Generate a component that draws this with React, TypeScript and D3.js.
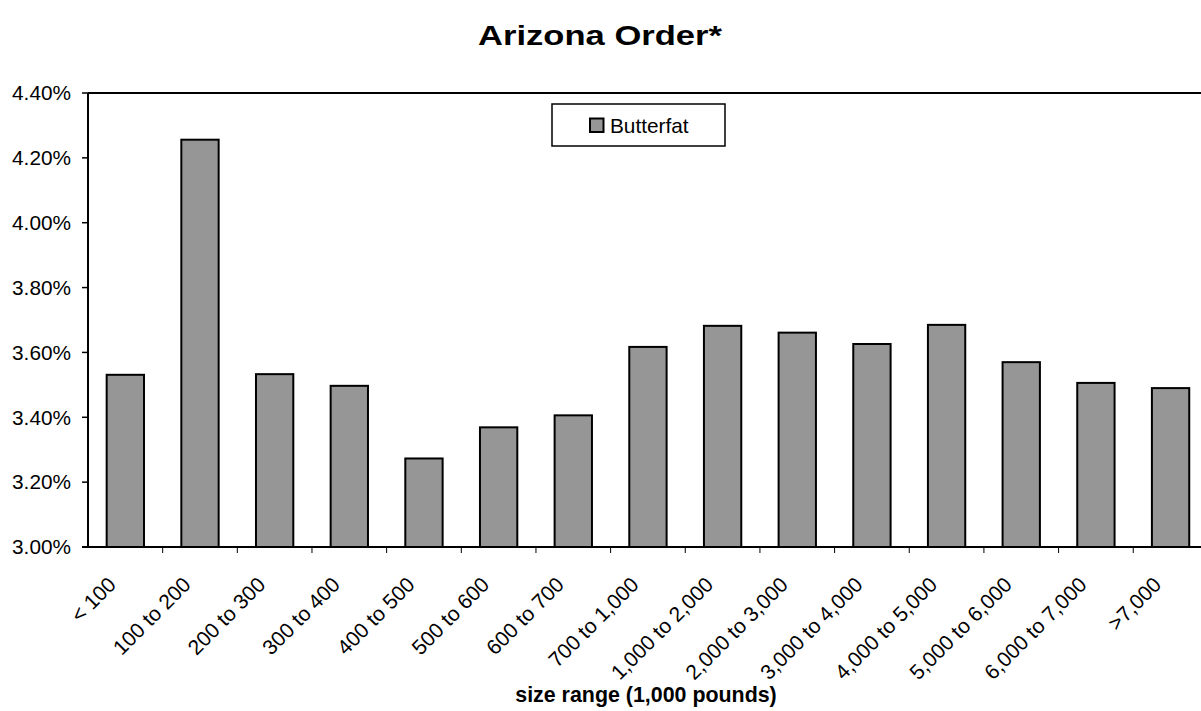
import React from "react";
import * as d3 from "d3";

// Butterfat test by producer size range (1,000 pounds)
const categories: string[] = [
  "< 100",
  "100 to 200",
  "200 to 300",
  "300 to 400",
  "400 to 500",
  "500 to 600",
  "600 to 700",
  "700 to 1,000",
  "1,000 to 2,000",
  "2,000 to 3,000",
  "3,000 to 4,000",
  "4,000 to 5,000",
  "5,000 to 6,000",
  "6,000 to 7,000",
  ">7,000",
];

const butterfat: number[] = [
  3.531, 4.256, 3.533, 3.497, 3.273, 3.369, 3.406, 3.617, 3.682, 3.661,
  3.626, 3.685, 3.57, 3.506, 3.49,
];

const yTicks: number[] = [3.0, 3.2, 3.4, 3.6, 3.8, 4.0, 4.2, 4.4];

const W = 1201;
const H = 711;
const margin = { left: 88, top: 93, bottom: 547 };
const bandWidth = 74.66;
const plotRight = margin.left + bandWidth * categories.length;

const FONT = "Arial, 'Liberation Sans', Helvetica, sans-serif";

export default function App() {
  const x = d3
    .scaleBand<string>()
    .domain(categories)
    .range([margin.left, plotRight])
    .paddingInner(0.5)
    .paddingOuter(0.25);

  const y = d3.scaleLinear().domain([3.0, 4.4]).range([margin.bottom, margin.top]);

  const band = d3
    .scaleBand<string>()
    .domain(categories)
    .range([margin.left, plotRight]);

  return (
    <svg
      width={W}
      height={H}
      style={{ position: "absolute", left: 0, top: 0, background: "#fff" }}
      fontFamily={FONT}
    >
      <text
        transform="translate(600 45) scale(1.28 1)"
        textAnchor="middle"
        fontWeight="bold"
        fontSize={27}
        fill="#000"
      >
        Arizona Order*
      </text>

      {/* bars */}
      {categories.map((c, i) => (
        <rect
          key={c}
          x={x(c)}
          y={y(butterfat[i])}
          width={x.bandwidth()}
          height={y(3.0) - y(butterfat[i])}
          fill="#969696"
          stroke="#000"
          strokeWidth={2}
        />
      ))}

      {/* plot frame */}
      <line x1={margin.left} x2={W} y1={margin.top} y2={margin.top} stroke="#000" strokeWidth={2} />
      <line x1={margin.left} x2={margin.left} y1={margin.top} y2={margin.bottom} stroke="#000" strokeWidth={2} />
      <line x1={margin.left - 6} x2={W} y1={margin.bottom} y2={margin.bottom} stroke="#000" strokeWidth={2} />

      {/* y axis */}
      {yTicks.map((t) => (
        <g key={t}>
          <line
            x1={margin.left - 6}
            x2={margin.left}
            y1={y(t)}
            y2={y(t)}
            stroke="#000"
            strokeWidth={1.5}
          />
          <text
            x={71}
            y={y(t)}
            dy="0.35em"
            textAnchor="end"
            fontSize={20.8}
            fill="#000"
          >
            {d3.format(".2f")(t) + "%"}
          </text>
        </g>
      ))}

      {/* x axis ticks at category boundaries */}
      {categories.slice(1).map((c) => (
        <line
          key={"t" + c}
          x1={band(c)}
          x2={band(c)}
          y1={margin.bottom}
          y2={margin.bottom + 6}
          stroke="#000"
          strokeWidth={1}
        />
      ))}

      {/* x axis labels */}
      {categories.map((c) => {
        const cx = (band(c) as number) + band.bandwidth() / 2 - 8;
        const cy = margin.bottom + 39;
        return (
          <text
            key={"l" + c}
            x={cx}
            y={cy}
            textAnchor="end"
            fontSize={21}
            fill="#000"
            transform={`rotate(-45 ${cx} ${cy})`}
          >
            {c}
          </text>
        );
      })}

      <text
        x={646}
        y={702}
        textAnchor="middle"
        fontWeight="bold"
        fontSize={21.4}
        fill="#000"
      >
        size range (1,000 pounds)
      </text>

      {/* legend */}
      <g>
        <rect x={552} y={104} width={173} height={42} fill="#fff" stroke="#000" strokeWidth={1.5} />
        <rect x={590} y={118.5} width={13.5} height={13.5} fill="#969696" stroke="#000" strokeWidth={2} />
        <text x={610} y={132.5} fontSize={20.8} fill="#000">
          Butterfat
        </text>
      </g>
    </svg>
  );
}
